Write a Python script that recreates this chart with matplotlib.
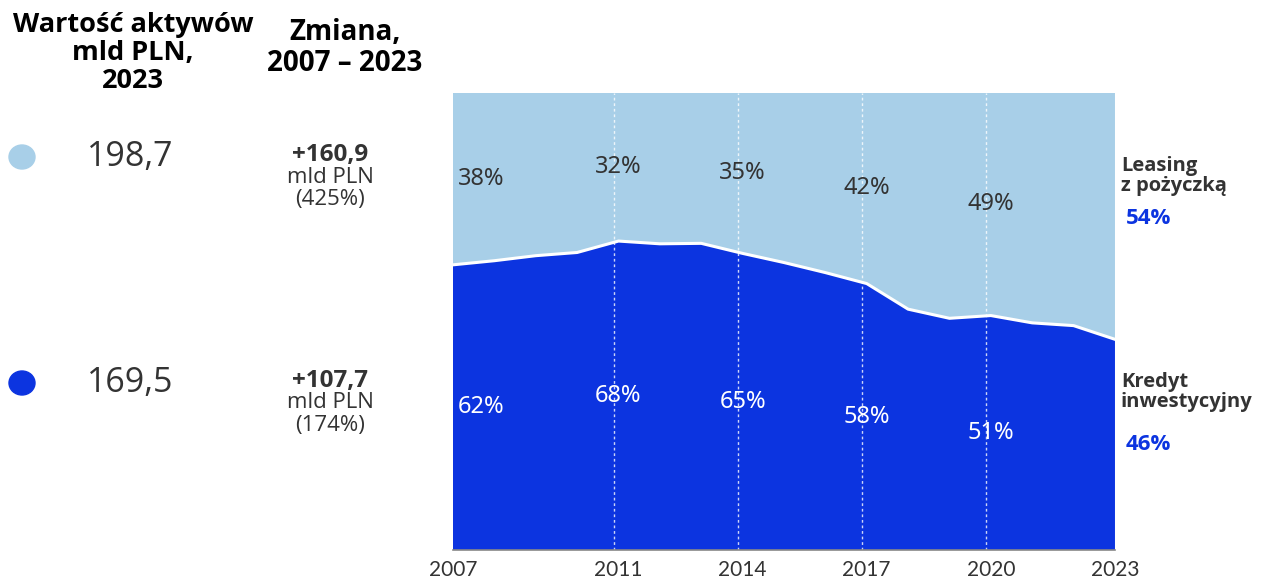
import matplotlib
matplotlib.use("Agg")
import matplotlib.pyplot as plt
from matplotlib.patches import Ellipse

# share of each product in total assets, %
years = [2007, 2008, 2009, 2010, 2011, 2012, 2013, 2014, 2015,
         2016, 2017, 2018, 2019, 2020, 2021, 2022, 2023]
kredyt = [62.4, 63.3, 64.4, 65.1, 67.6, 67.0, 67.1, 64.9, 62.9,
          60.7, 58.3, 52.7, 50.7, 51.3, 49.7, 49.1, 46.1]
leasing = [37.6, 36.7, 35.6, 34.9, 32.4, 33.0, 32.9, 35.1, 37.1,
           39.3, 41.7, 47.3, 49.3, 48.7, 50.3, 50.9, 53.9]

label_years = [2007, 2011, 2014, 2017, 2020]
label_kredyt = ["62%", "68%", "65%", "58%", "51%"]
label_leasing = ["38%", "32%", "35%", "42%", "49%"]
tick_years = [2007, 2011, 2014, 2017, 2020, 2023]

series_names = ["Leasing\nz pożyczką", "Kredyt\ninwestycyjny"]
series_last = ["54%", "46%"]
assets_2023 = ["198,7", "169,5"]
change_abs = ["+160,9", "+107,7"]
change_pct = ["(425%)", "(174%)"]

LIGHT = "#a8cfe8"
BLUE = "#0c34e0"
DARK = "#333333"
FONT = ["Open Sans", "DejaVu Sans"]

plt.rcParams["font.family"] = FONT

fig = plt.figure(figsize=(12.65, 5.83), dpi=100)
ax = fig.add_axes([0.3581, 0.0566, 0.5233, 0.7839])

ax.stackplot(years, kredyt, leasing, colors=[BLUE, LIGHT], linewidth=0)
ax.plot(years, kredyt, color="white", lw=2.2)
for y in tick_years[1:-1]:
    ax.axvline(y - 0.12, color="white", lw=1, ls=(0, (2, 2)), alpha=0.8)

ax.set_xlim(years[0], years[-1])
ax.set_ylim(0, 100)
ax.set_yticks([])
for s in ["top", "left", "right"]:
    ax.spines[s].set_visible(False)
ax.spines["bottom"].set_color("#888888")
ax.spines["bottom"].set_linewidth(1.2)
ax.set_xticks(tick_years)
ax.set_xticklabels([str(y) for y in tick_years], family=["Liberation Sans Narrow", "Lato"],
                   fontsize=15, color=DARK)
ax.tick_params(axis="x", length=0, pad=7)

# percentage labels at mid of each band
for yr, lk, ll in zip(label_years, label_kredyt, label_leasing):
    k = kredyt[years.index(yr)]
    ha = "left" if yr == years[0] else "center"
    x = yr + 0.12 if yr == years[0] else yr
    ax.text(x, k / 2, lk, color="white", fontsize=17, ha=ha, va="center",
            family=["Noto Sans", "DejaVu Sans"])
    ax.text(x, k + (100 - k) / 2, ll, color=DARK, fontsize=17, ha=ha, va="center",
            family=["Noto Sans", "DejaVu Sans"])

# right-hand series labels
fig.text(1121 / 1265, 1 - 176 / 583, series_names[0], fontsize=14.5, fontweight="bold",
         color=DARK, va="center", ha="left", linespacing=1.05)
fig.text(1126 / 1265, 1 - 219 / 583, series_last[0], fontsize=16, fontweight="bold",
         color=BLUE, va="center", ha="left")
fig.text(1121 / 1265, 1 - 392 / 583, series_names[1], fontsize=14.5, fontweight="bold",
         color=DARK, va="center", ha="left", linespacing=1.05)
fig.text(1126 / 1265, 1 - 445 / 583, series_last[1], fontsize=16, fontweight="bold",
         color=BLUE, va="center", ha="left")

# left-hand summary panel
fig.text(133 / 1265, 1 - 53 / 583, "Wartość aktywów\nmld PLN,\n2023", fontsize=19.5,
         fontweight="bold", color="black", ha="center", va="center", linespacing=1.12)
fig.text(345 / 1265, 1 - 48 / 583, "Zmiana,\n2007 – 2023", fontsize=20,
         fontweight="bold", color="black", ha="center", va="center", linespacing=1.12)

row_y = [157, 383]
for i, (c, ry) in enumerate(zip([LIGHT, BLUE], row_y)):
    fig.patches.append(Ellipse((22 / 1265, 1 - ry / 583), 26 / 1265, 24 / 583,
                               transform=fig.transFigure, color=c))
    fig.text(130 / 1265, 1 - ry / 583, assets_2023[i], fontsize=24.5, color=DARK,
             ha="center", va="center")
    fig.text(330 / 1265, 1 - (ry - 2) / 583, change_abs[i], fontsize=17.5, fontweight="bold",
             color=DARK, ha="center", va="center")
    fig.text(330 / 1265, 1 - (ry + 20) / 583, "mld PLN", fontsize=16, color=DARK,
             ha="center", va="center")
    fig.text(330 / 1265, 1 - (ry + 42) / 583, change_pct[i], fontsize=16, color=DARK,
             ha="center", va="center")

fig.savefig("out.png", dpi=100)
